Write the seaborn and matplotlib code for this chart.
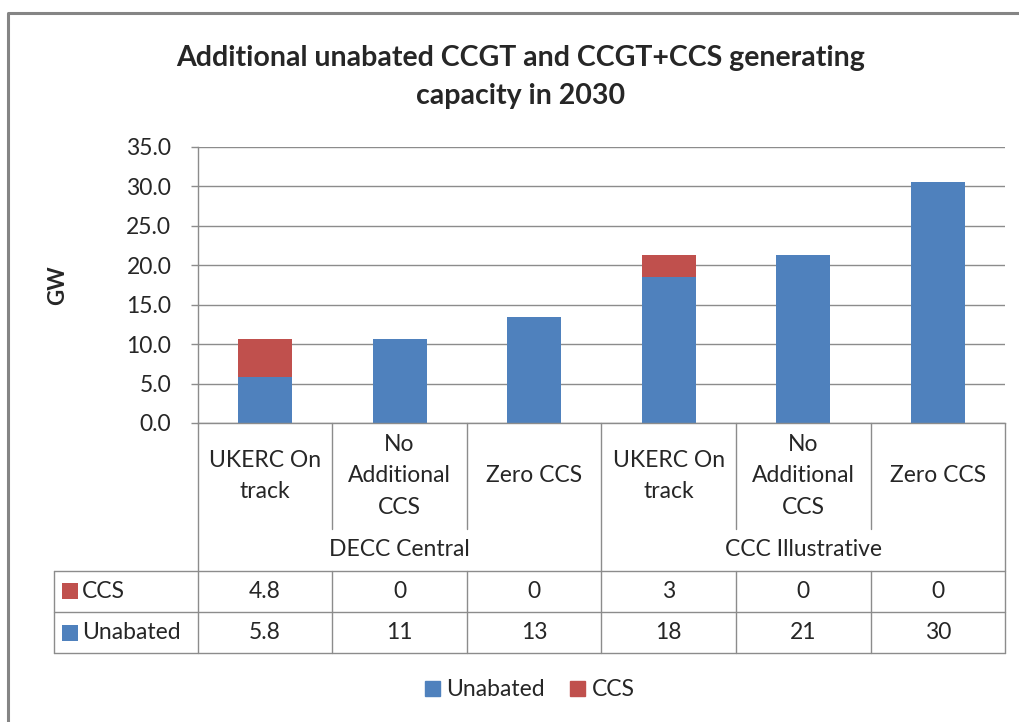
import matplotlib
matplotlib.use('Agg')
import matplotlib.pyplot as plt
import pandas as pd
import seaborn as sns
from matplotlib.lines import Line2D
from matplotlib.patches import Patch, Rectangle

# data
groups = ['DECC Central', 'CCC Illustrative']
scenarios = ['UKERC On\ntrack', 'No\nAdditional\nCCS', 'Zero CCS',
             'UKERC On\ntrack', 'No\nAdditional\nCCS', 'Zero CCS']
unabated = [5.8, 10.6, 13.4, 18.5, 21.3, 30.5]
ccs = [4.8, 0.0, 0.0, 2.8, 0.0, 0.0]
ccs_table = ['4.8', '0', '0', '3', '0', '0']
unabated_table = ['5.8', '11', '13', '18', '21', '30']
yticks = [0, 5, 10, 15, 20, 25, 30, 35]

BLUE = '#4F81BD'
RED = '#C0504D'
GRID = '#8C8C8C'
FS = 16.5

W, H = 1020, 722
AX_L, AX_R, AX_TOP, AX_BOT = 197.7, 1005.3, 146.7, 423.0


def ay(py):
    # pixel row -> axes fraction
    return (AX_BOT - py) / (AX_BOT - AX_TOP)


def dx(px):
    # pixel column -> data x
    return -0.5 + (px - AX_L) / ((AX_R - AX_L) / 6)


sns.set_style('white')
plt.rcParams['font.family'] = ['Lato', 'DejaVu Sans']

df = pd.DataFrame({
    'key': [f'{i}' for i in range(len(scenarios))],
    'unabated': unabated,
    'ccs': ccs,
})
df['total'] = df['unabated'] + df['ccs']

fig = plt.figure(figsize=(W / 100, H / 100), dpi=100)
ax = fig.add_axes([AX_L / W, 1 - AX_BOT / H, (AX_R - AX_L) / W, (AX_BOT - AX_TOP) / H])

sns.barplot(data=df, x='key', y='total', color=RED, saturation=1, width=0.4,
            linewidth=0, errorbar=None, ax=ax)
sns.barplot(data=df, x='key', y='unabated', color=BLUE, saturation=1, width=0.4,
            linewidth=0, errorbar=None, ax=ax)

ax.set_xlim(-0.5, 5.5)
ax.set_ylim(0, 35)
ax.set_yticks(yticks)
ax.set_yticklabels([f'{v:.1f}' for v in yticks], fontsize=FS)
ax.set_xticks([])
ax.set_xlabel('')
ax.set_ylabel('GW', fontsize=16, fontweight='bold')
ax.yaxis.set_label_coords(-0.16, 0.5)
ax.tick_params(axis='y', length=5, width=1, color=GRID, pad=14, left=True)
ax.grid(axis='y', color=GRID, linewidth=1)
ax.set_axisbelow(True)
for side in ['top', 'right']:
    ax.spines[side].set_visible(False)
for side in ['left', 'bottom']:
    ax.spines[side].set_color(GRID)
    ax.spines[side].set_linewidth(1)

# category area and data table under the axis
tr = ax.get_xaxis_transform()
y_cat_end, y_t0, y_t1, y_t2 = ay(529), ay(570.7), ay(611.7), ay(653.3)
x_tab = dx(54)
line_kw = dict(color=GRID, linewidth=1, transform=tr, clip_on=False)
for yy in [y_t0, y_t1, y_t2]:
    ax.plot([x_tab, 5.5], [yy, yy], **line_kw)
ax.plot([x_tab, x_tab], [y_t0, y_t2], **line_kw)
for xx in [-0.5, 2.5, 5.5]:
    ax.plot([xx, xx], [0, y_t2], **line_kw)
for xx in [0.5, 1.5, 3.5, 4.5]:
    ax.plot([xx, xx], [0, y_cat_end], **line_kw)
    ax.plot([xx, xx], [y_t0, y_t2], **line_kw)

for i, name in enumerate(scenarios):
    ax.text(i, ay(476), name, transform=tr, ha='center', va='center',
            fontsize=FS, linespacing=1.6)
    ax.text(i, (y_t0 + y_t1) / 2, ccs_table[i], transform=tr,
            ha='center', va='center', fontsize=FS)
    ax.text(i, (y_t1 + y_t2) / 2, unabated_table[i], transform=tr,
            ha='center', va='center', fontsize=FS)
for g, name in enumerate(groups):
    ax.text(3 * g + 1, ay(550), name, transform=tr, ha='center', va='center', fontsize=FS)

# row keys of the data table
for label, colour, (top, bot) in [('CCS', RED, (570.7, 611.7)), ('Unabated', BLUE, (611.7, 653.3))]:
    mid = (top + bot) / 2
    fig.add_artist(Rectangle((62 / W, 1 - (mid + 8) / H), 16 / W, 16 / H,
                             facecolor=colour, edgecolor='none', transform=fig.transFigure))
    fig.text(82 / W, 1 - mid / H, label, ha='left', va='center', fontsize=FS)

fig.text(521 / W, 1 - 77 / H,
         'Additional unabated CCGT and CCGT+CCS generating\ncapacity in 2030',
         ha='center', va='center', fontsize=20.5, fontweight='bold', linespacing=1.55)

fig.legend(handles=[Patch(color=BLUE, label='Unabated'), Patch(color=RED, label='CCS')],
           loc='center', bbox_to_anchor=(530 / W, 1 - 690 / H), ncol=2, frameon=False,
           fontsize=FS, handlelength=0.65, handleheight=0.65, handletextpad=0.3,
           columnspacing=1.1)

# chart frame (left and top edges visible)
fig.add_artist(Line2D([8 / W, 8 / W, 1], [0, 1 - 13 / H, 1 - 13 / H],
                      color='#858585', linewidth=2.2, transform=fig.transFigure))

fig.savefig('out.png', dpi=100, facecolor='white')
